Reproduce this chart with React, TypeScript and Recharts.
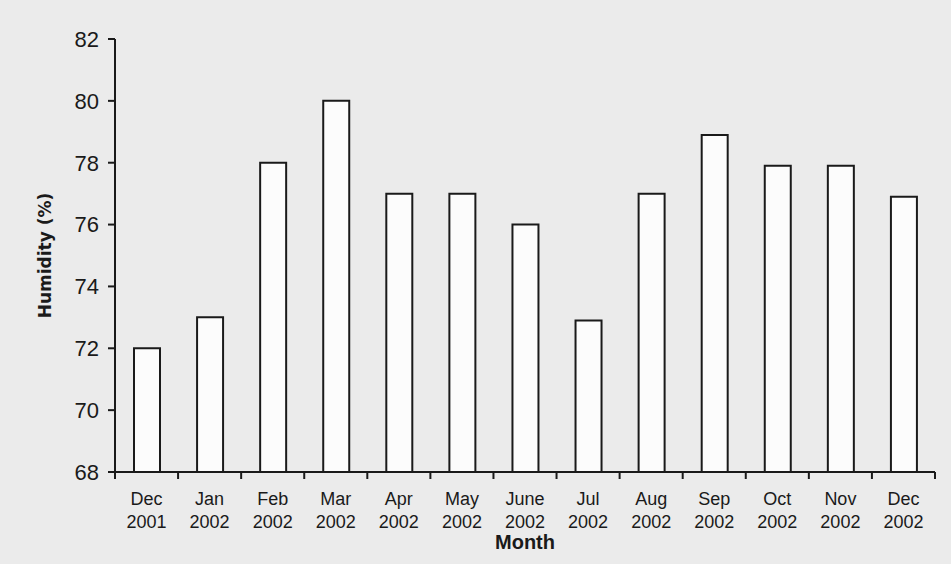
import { BarChart, Bar, XAxis, YAxis, Label } from "recharts";

const MONTHS = [
  "Dec", "Jan", "Feb", "Mar", "Apr", "May", "June",
  "Jul", "Aug", "Sep", "Oct", "Nov", "Dec",
];
const YEARS = [
  "2001", "2002", "2002", "2002", "2002", "2002", "2002",
  "2002", "2002", "2002", "2002", "2002", "2002",
];
const HUMIDITY = [72, 73, 78, 80, 77, 77, 76, 72.9, 77, 78.9, 77.9, 77.9, 76.9];
const Y_TICKS = [68, 70, 72, 74, 76, 78, 80, 82];

const data = MONTHS.map((m, i) => ({
  key: `${m}-${YEARS[i]}-${i}`,
  month: m,
  year: YEARS[i],
  humidity: HUMIDITY[i],
}));

const W = 951;
const H = 564;
const PLOT_LEFT = 115;
const PLOT_RIGHT = 935;
const PLOT_TOP = 39;
const PLOT_BOTTOM = 472;
const STEP = (PLOT_RIGHT - PLOT_LEFT) / MONTHS.length;
const INK = "#1a1a1a";
const FONT = "'Liberation Sans', Arial, sans-serif";

// two-line month label plus the boundary tick marks between categories
function MonthTick(props: any) {
  const { x, payload, index } = props;
  const row = data[index] ?? data[payload.index];
  const left = x - STEP / 2;
  const right = x + STEP / 2;
  return (
    <g>
      <line x1={left} x2={left} y1={PLOT_BOTTOM} y2={PLOT_BOTTOM + 7} stroke={INK} strokeWidth={2} />
      {index === MONTHS.length - 1 && (
        <line x1={right} x2={right} y1={PLOT_BOTTOM} y2={PLOT_BOTTOM + 7} stroke={INK} strokeWidth={2} />
      )}
      <text x={x} y={505} textAnchor="middle" fontSize={18} fontFamily={FONT} fill={INK}>
        {row.month}
      </text>
      <text x={x} y={528} textAnchor="middle" fontSize={18} fontFamily={FONT} fill={INK}>
        {row.year}
      </text>
    </g>
  );
}

function YTitle() {
  const cx = 45;
  const cy = (PLOT_TOP + PLOT_BOTTOM) / 2;
  return (
    <text
      x={cx}
      y={cy}
      transform={`rotate(-90, ${cx}, ${cy})`}
      textAnchor="middle"
      dominantBaseline="central"
      fontSize={17}
      fontWeight="bold"
      fontFamily="'DejaVu Sans', Verdana, sans-serif"
      fill={INK}
    >
      Humidity (%)
    </text>
  );
}

function XTitle() {
  return (
    <text
      x={(PLOT_LEFT + PLOT_RIGHT) / 2}
      y={549}
      textAnchor="middle"
      fontSize={20}
      fontWeight="bold"
      fontFamily={FONT}
      fill={INK}
    >
      Month
    </text>
  );
}

export default function App() {
  return (
    <div
      style={{
        position: "absolute",
        left: 0,
        top: 0,
        width: W,
        height: H,
        background: "#ebebeb",
      }}
    >
      <BarChart
        width={W}
        height={H}
        data={data}
        margin={{ top: PLOT_TOP, right: W - PLOT_RIGHT, left: 0, bottom: 0 }}
      >
        <YAxis
          width={PLOT_LEFT}
          domain={[68, 82]}
          ticks={Y_TICKS}
          interval={0}
          allowDataOverflow
          tickSize={7}
          tickMargin={9}
          axisLine={{ stroke: INK, strokeWidth: 2 }}
          tickLine={{ stroke: INK, strokeWidth: 2 }}
          tick={{ fontSize: 22, fontFamily: FONT, fill: INK }}
        >
          <Label content={<YTitle />} />
        </YAxis>
        <XAxis
          dataKey="key"
          height={H - PLOT_BOTTOM}
          interval={0}
          tickLine={false}
          axisLine={{ stroke: INK, strokeWidth: 2 }}
          tick={<MonthTick />}
        >
          <Label content={<XTitle />} />
        </XAxis>
        <Bar
          dataKey="humidity"
          barSize={26}
          fill="#fcfcfc"
          stroke={INK}
          strokeWidth={2}
          isAnimationActive={false}
        />
      </BarChart>
    </div>
  );
}
